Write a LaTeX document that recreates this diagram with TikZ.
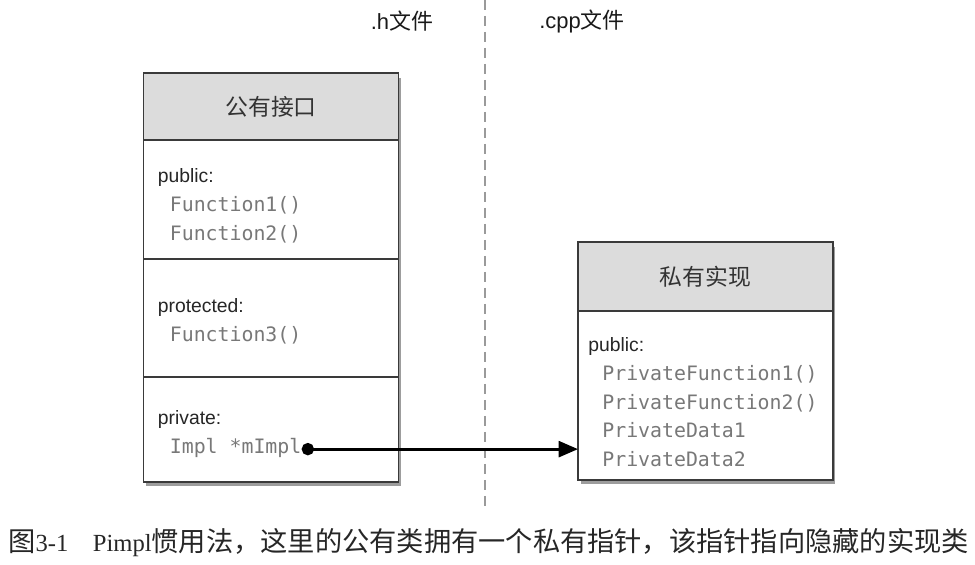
\documentclass[tikz,border=0pt]{standalone}
\usepackage{fontspec}
\setmainfont{Liberation Serif}
\setsansfont{Liberation Sans}
\setmonofont{DejaVu Sans Mono}
\newfontfamily\cjk{Noto Sans CJK SC}
\usepackage{xcolor}
\usetikzlibrary{arrows.meta,positioning,shadows}
\definecolor{framegray}{HTML}{3A3A3A}
\definecolor{headgray}{HTML}{DCDCDC}
\definecolor{codegray}{HTML}{787878}
\definecolor{dashgray}{HTML}{9A9A9A}
\newcommand{\capzh}[1]{{\cjk\fontsize{15.5}{18}\selectfont #1}}
\tikzset{%
	header/.style   = {draw=framegray, fill=headgray, rectangle, line width=1pt, outer sep=0pt, minimum width=5.1cm, font=\cjk\fontsize{13}{15}\selectfont, text=black!80, drop shadow={shadow xshift=0.05cm, shadow yshift=-0.09cm, opacity=0.55, fill=black!70}}, % class title
	section/.style  = {draw=framegray, fill=white, rectangle, line width=1pt, outer sep=0pt, minimum width=5.1cm, drop shadow={shadow xshift=0.05cm, shadow yshift=-0.09cm, opacity=0.55, fill=black!70}}, % class part
	access/.style   = {inner sep=0pt, text height=8pt, text depth=3pt, font=\sffamily\fontsize{11}{13}\selectfont, text=black!85}, % public: etc.
	member/.style   = {inner sep=0pt, text height=8pt, text depth=3pt, font=\ttfamily\fontsize{11.3}{13}\selectfont, text=codegray}, % code line
	filelabel/.style= {font=\sffamily\fontsize{12.5}{14}\selectfont, text=black!90},
	caption/.style  = {font=\rmfamily\fontsize{14}{16}\selectfont, text=black!85, inner sep=0pt},
	divider/.style  = {dashgray, line width=0.9pt, dash pattern=on 0.2cm off 0.12cm},
	pointer/.style  = {line width=1.7pt, {Circle[length=7pt]}-{Triangle[length=11pt,width=9pt]}},
}

\begin{document}
\begin{tikzpicture}[x=0.02cm, y=-0.02cm, node distance=5pt]
	\useasboundingbox (0,0) rectangle (975,565);
	% file border
	\coordinate (dtop) at (485,0);
	\coordinate (dbot) at (485,508);
	\draw[divider] (dtop) -- (dbot);
	\node[filelabel] (hfile) at (402,21) {.h{\cjk 文件}};
	\node[filelabel] (cppfile) at (582,21) {.cpp{\cjk 文件}};
	% public class
	\node[header, minimum height=1.34cm] (pubhead) at (271,106.5) {公有接口};
	\node[section, minimum height=2.38cm, below=0pt of pubhead] (pubsec) {};
	\node[section, minimum height=2.36cm, below=0pt of pubsec] (protsec) {};
	\node[section, minimum height=2.1cm, below=0pt of protsec] (privsec) {};
	\node[access, below right=0.56cm and 0.28cm of pubsec.north west] (pubkw) {public:};
	\node[member, below right=5pt and 0.24cm of pubkw.south west] (fn1) {Function1()};
	\node[member, below right=5pt and 0pt of fn1.south west] (fn2) {Function2()};
	\node[access, below right=0.78cm and 0.28cm of protsec.north west] (protkw) {protected:};
	\node[member, below right=5pt and 0.24cm of protkw.south west] (fn3) {Function3()};
	\node[access, below right=0.66cm and 0.28cm of privsec.north west] (privkw) {private:};
	\node[member, below right=5pt and 0.24cm of privkw.south west] (impl) {Impl *mImpl};
	% private implementation
	\node[header, minimum height=1.38cm] (implhead) at (705.5,276.5) {私有实现};
	\node[section, minimum height=3.38cm, below=0pt of implhead] (implbody) {};
	\node[access, below right=0.52cm and 0.2cm of implbody.north west] (implkw) {public:};
	\node[member, below right=5pt and 0.28cm of implkw.south west] (pfn1) {PrivateFunction1()};
	\node[member, below right=5pt and 0pt of pfn1.south west] (pfn2) {PrivateFunction2()};
	\node[member, below right=5pt and 0pt of pfn2.south west] (pdat1) {PrivateData1};
	\node[member, below right=5pt and 0pt of pdat1.south west] (pdat2) {PrivateData2};
	\draw[pointer] (impl.mid east) -- (implbody.west |- impl.mid east);
	% caption
	\node[caption, anchor=west] (cap) at (8,543) {\capzh{图}3-1\hspace{14pt}Pimpl\capzh{惯用法，这里的公有类拥有一个私有指针，该指针指向隐藏的实现类}};
\end{tikzpicture}
\end{document}
